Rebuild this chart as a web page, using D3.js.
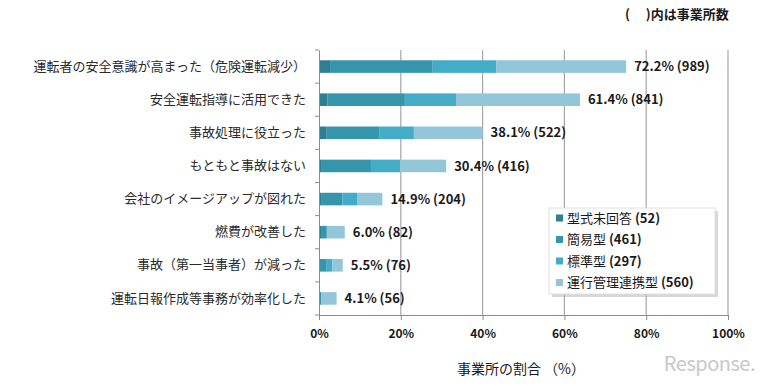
<!DOCTYPE html>
<html>
<head>
<meta charset="utf-8">
<script src="https://cdn.jsdelivr.net/npm/d3@7"></script>
<style>
  body { margin: 0; background: #fff; }
  svg text { font-family: "Noto Sans CJK JP", "Noto Sans", sans-serif; }
</style>
</head>
<body>
<div id="chart"></div>
<script>
// categories, top to bottom
const categories = [
  "運転者の安全意識が高まった（危険運転減少）",
  "安全運転指導に活用できた",
  "事故処理に役立った",
  "もともと事故はない",
  "会社のイメージアップが図れた",
  "燃費が改善した",
  "事故（第一当事者）が減った",
  "運転日報作成等事務が効率化した"
];

// series (legend order) and the segment lengths (%)
const seriesNames = ["型式未回答 (52)", "簡易型 (461)", "標準型 (297)", "運行管理連携型 (560)"];
const unanswered = [2.7, 2.1, 1.9, 0.7, 0.5, 0.5, 0.2, 0.2];
const simple     = [25.1, 18.9, 12.8, 12.0, 5.2, 1.4, 1.7, 0.3];
const standard   = [15.6, 12.5, 8.5, 7.1, 3.6, 0.2, 1.4, 0.0];
const linked     = [31.7, 30.3, 16.8, 11.3, 6.2, 4.2, 2.5, 3.8];

// total labels
const totalPct = ["72.2%", "61.4%", "38.1%", "30.4%", "14.9%", "6.0%", "5.5%", "4.1%"];
const totalCount = [989, 841, 522, 416, 204, 82, 76, 56];

const xTicks = [0, 20, 40, 60, 80, 100];
const colors = ["#2f7f92", "#3595ab", "#43acc6", "#93c6d8"];

const width = 770, height = 386;
const margin = { top: 50, right: 42, bottom: 71, left: 319 };

const svg = d3.select("#chart")
  .append("svg")
  .attr("width", width)
  .attr("height", height);

const rows = categories.map((c, i) => ({
  cat: c,
  s0: unanswered[i], s1: simple[i], s2: standard[i], s3: linked[i]
}));

const stack = d3.stack().keys(["s0", "s1", "s2", "s3"]);
const stacked = stack(rows);

const xScale = d3.scaleLinear()
  .domain([0, 100])
  .range([margin.left, width - margin.right]);

const yScale = d3.scaleBand()
  .domain(categories)
  .range([margin.top, height - margin.bottom])
  .paddingInner(0.62)
  .paddingOuter(0.31);

// gridlines
svg.append("g")
  .selectAll("line")
  .data(xTicks.slice(1))
  .enter()
  .append("line")
    .attr("x1", d => xScale(d))
    .attr("x2", d => xScale(d))
    .attr("y1", margin.top)
    .attr("y2", height - margin.bottom)
    .attr("stroke", "#a6a6a6")
    .attr("stroke-width", 1.2);

// bars
svg.append("g")
  .selectAll("g")
  .data(stacked)
  .enter()
  .append("g")
    .attr("fill", (d, i) => colors[i])
  .selectAll("rect")
  .data(d => d)
  .enter()
  .append("rect")
    .attr("x", d => xScale(d[0]))
    .attr("y", d => yScale(d.data.cat))
    .attr("width", d => xScale(d[1]) - xScale(d[0]))
    .attr("height", yScale.bandwidth());

// total labels
svg.append("g")
  .selectAll("text")
  .data(rows)
  .enter()
  .append("text")
    .attr("x", (d, i) => xScale(stacked[3][i][1]) + 8)
    .attr("y", d => yScale(d.cat) + yScale.bandwidth() / 2)
    .attr("dy", "0.36em")
    .attr("font-size", "13px")
    .attr("font-weight", "bold")
    .attr("fill", "#1a1a1a")
    .text((d, i) => totalPct[i] + " (" + totalCount[i] + ")");

// x axis
const xAxis = svg.append("g")
  .attr("transform", `translate(0,${height - margin.bottom})`)
  .call(d3.axisBottom(xScale).tickValues(xTicks).tickFormat(d => d + "%").tickSize(5).tickPadding(9));
xAxis.select(".domain").attr("stroke", "#8c8c8c");
xAxis.selectAll(".tick line").attr("stroke", "#8c8c8c");
xAxis.selectAll("text")
  .attr("font-size", "12px")
  .attr("font-weight", "bold")
  .attr("fill", "#1a1a1a");

// y axis with ticks between bands
const yAxis = svg.append("g")
  .attr("transform", `translate(${margin.left},0)`)
  .call(d3.axisLeft(yScale).tickSize(0).tickPadding(13));
yAxis.select(".domain").attr("stroke", "#8c8c8c");
yAxis.selectAll("text")
  .attr("font-size", "13px")
  .attr("fill", "#2a2a2a");
const step = yScale.step();
yAxis.selectAll(".sep")
  .data(d3.range(categories.length + 1))
  .enter()
  .append("line")
    .attr("x1", -4).attr("x2", 0)
    .attr("y1", i => margin.top + i * step)
    .attr("y2", i => margin.top + i * step)
    .attr("stroke", "#8c8c8c");

// legend
const legend = svg.append("g").attr("transform", "translate(549,208)");
legend.append("rect")
  .attr("x", 3).attr("y", 3)
  .attr("width", 166).attr("height", 86)
  .attr("fill", "#bdbdbd")
  .attr("opacity", 0.6);
legend.append("rect")
  .attr("width", 166).attr("height", 86)
  .attr("fill", "#fff")
  .attr("stroke", "#e0e0e0");
const items = legend.selectAll(".item")
  .data(seriesNames)
  .enter()
  .append("g")
    .attr("transform", (d, i) => `translate(7,${10 + i * 21.5})`);
items.append("rect")
  .attr("width", 7).attr("height", 7)
  .attr("y", -3.5)
  .attr("fill", (d, i) => colors[i]);
items.append("text")
  .attr("x", 11)
  .attr("dy", "0.36em")
  .attr("font-size", "13px")
  .attr("fill", "#1a1a1a")
  .each(function(d) {
    const parts = d.split(" ");
    d3.select(this).append("tspan").text(parts[0] + " ");
    d3.select(this).append("tspan").attr("font-weight", "bold").text(parts[1]);
  });

// note at top right
svg.append("text")
  .attr("x", 625).attr("y", 19)
  .attr("font-size", "13px")
  .attr("font-weight", "bold")
  .attr("fill", "#1a1a1a")
  .text("(　 )内は事業所数");

// axis title
svg.append("text")
  .attr("x", 521).attr("y", 374)
  .attr("text-anchor", "middle")
  .attr("font-size", "14px")
  .attr("fill", "#1a1a1a")
  .text("事業所の割合 （%）");

// watermark
svg.append("text")
  .attr("x", 755).attr("y", 371)
  .attr("text-anchor", "end")
  .attr("font-size", "20px")
  .attr("font-family", "DejaVu Sans")
  .attr("fill", "#c8c8c8")
  .attr("letter-spacing", "-0.5px")
  .text("Response.");
</script>
</body>
</html>
